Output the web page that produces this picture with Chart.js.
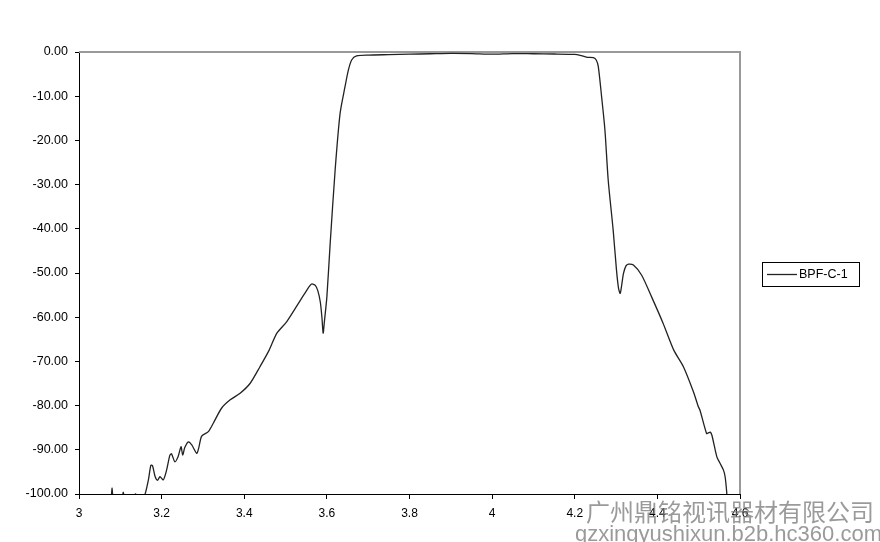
<!DOCTYPE html>
<html>
<head>
<meta charset="utf-8">
<script src="https://cdn.jsdelivr.net/npm/chart.js@4.4.0/dist/chart.umd.min.js"></script>
<style>
  body { margin: 0; background: #fff; }
  #wrap { position: relative; width: 880px; height: 542px; }
  .wm { position: absolute; color: rgba(120,120,120,0.75); white-space: nowrap; line-height: 1; }
  #wm1 { left: 586px; top: 493px; font: 24px "Noto Sans CJK SC", sans-serif; }
  #wm2 { left: 575px; top: 521px; font: 22px "Liberation Sans", Arial, sans-serif; }
</style>
</head>
<body>
<div id="wrap">
  <canvas id="bpf" width="880" height="542"></canvas>
  <div class="wm" id="wm1">广州鼎铭视讯器材有限公司</div>
  <div class="wm" id="wm2">gzxingyushixun.b2b.hc360.com</div>
</div>
<script>
// frequency (GHz) and response (dB)
const freq = [3.000, 3.070, 3.078, 3.080, 3.082, 3.090, 3.105, 3.107, 3.110, 3.125,
  3.134, 3.137, 3.140, 3.150, 3.160, 3.168, 3.174, 3.178, 3.184, 3.190,
  3.196, 3.204, 3.212, 3.220, 3.224, 3.232, 3.240, 3.247, 3.251, 3.256,
  3.265, 3.273, 3.285, 3.290, 3.297, 3.313, 3.325, 3.345, 3.366, 3.390,
  3.414, 3.438, 3.460, 3.479, 3.503, 3.535, 3.552, 3.563, 3.572, 3.578,
  3.584, 3.588, 3.591, 3.594, 3.600, 3.608, 3.620, 3.632, 3.644, 3.652,
  3.660, 3.672, 3.700, 3.750, 3.800, 3.850, 3.900, 3.950, 4.000, 4.050,
  4.100, 4.150, 4.200, 4.213, 4.230, 4.245, 4.252, 4.257, 4.265, 4.273,
  4.281, 4.293, 4.301, 4.306, 4.310, 4.314, 4.318, 4.324, 4.330, 4.342,
  4.362, 4.386, 4.414, 4.440, 4.463, 4.487, 4.499, 4.503, 4.519, 4.523,
  4.528, 4.532, 4.544, 4.552, 4.560, 4.564, 4.568, 4.570];
const loss = [-103, -102, -100.5, -98.6, -100.5, -102, -100.6, -99.6, -100.6, -102,
  -100.3, -100.0, -100.4, -102, -100, -96.8, -93.5, -93.6, -96.0, -96.9,
  -96.1, -96.8, -94.6, -91.2, -90.9, -92.7, -91.5, -89.3, -91.2, -89.5,
  -88.2, -88.9, -90.8, -89.5, -86.9, -85.9, -84.0, -80.6, -78.7, -77.2,
  -75.0, -71.2, -67.5, -63.6, -61.0, -56.3, -53.8, -52.5, -52.8, -54.0,
  -56.5, -60.0, -63.6, -61.0, -55.4, -43.3, -26.7, -13.9, -7.8, -4.1,
  -1.8, -0.9, -0.7, -0.6, -0.5, -0.4, -0.3, -0.35, -0.5, -0.35,
  -0.4, -0.45, -0.55, -0.75, -1.2, -1.3, -1.8, -3.3, -10.1, -17.6,
  -29, -40.3, -49.3, -53.5, -54.6, -52.5, -50.1, -48.4, -48.0, -48.2,
  -50.5, -55.4, -61.4, -67.5, -71.2, -76.8, -80.2, -81.0, -86.3, -86.2,
  -86.0, -86.7, -91.6, -93.1, -94.6, -96.1, -99.8, -103];
const seriesName = "BPF-C-1";
const xTicks = [3, 3.2, 3.4, 3.6, 3.8, 4, 4.2, 4.4, 4.6];

const font = "Liberation Sans";

// gray frame on top/right of plot area
const frame = {
  id: "frame",
  beforeDatasetsDraw(chart) {
    const a = chart.chartArea, c = chart.ctx;
    c.save();
    c.strokeStyle = "#999";
    c.lineWidth = 2;
    c.beginPath();
    c.moveTo(a.left, a.top);
    c.lineTo(a.right, a.top);
    c.lineTo(a.right, a.bottom);
    c.stroke();
    c.restore();
  }
};

// boxed legend to the right, like the spreadsheet one
const boxLegend = {
  id: "boxLegend",
  afterDraw(chart) {
    const c = chart.ctx, ds = chart.data.datasets[0];
    c.save();
    c.strokeStyle = "#000";
    c.lineWidth = 1;
    c.strokeRect(762.5, 262.5, 97, 24);
    c.strokeStyle = ds.borderColor;
    c.lineWidth = 1.3;
    c.beginPath();
    c.moveTo(767, 274.5);
    c.lineTo(797, 274.5);
    c.stroke();
    c.fillStyle = "#000";
    c.font = "12.5px '" + font + "'";
    c.textBaseline = "middle";
    c.fillText(ds.label, 799, 275);
    c.restore();
  }
};

const ctx = document.getElementById("bpf").getContext("2d");
new Chart(ctx, {
  type: "scatter",
  data: {
    datasets: [{
      label: seriesName,
      data: freq.map((f, i) => ({ x: f, y: loss[i] })),
      showLine: true,
      borderColor: "#222",
      borderWidth: 1.3,
      pointRadius: 0,
      tension: 0.25
    }]
  },
  options: {
    responsive: false,
    animation: false,
    layout: { padding: { top: 52, right: 140, bottom: 0, left: 0 } },
    plugins: { legend: { display: false }, tooltip: { enabled: false } },
    scales: {
      x: {
        type: "linear",
        min: 3, max: 4.6,
        afterFit(s) { s.height = 48; },
        afterBuildTicks(s) { s.ticks = xTicks.map(v => ({ value: v })); },
        border: { color: "#000", width: 1 },
        grid: { drawOnChartArea: false, drawTicks: true, tickLength: 5, color: "#000" },
        ticks: {
          padding: 7,
          maxRotation: 0,
          color: "#000",
          font: { family: font, size: 12 },
          callback: v => String(v)
        }
      },
      y: {
        min: -100, max: 0,
        afterFit(s) { s.width = 79; },
        border: { color: "#000", width: 1 },
        grid: { drawOnChartArea: false, drawTicks: true, tickLength: 4, color: "#000" },
        ticks: {
          stepSize: 10,
          padding: 7,
          color: "#000",
          font: { family: font, size: 12.5 },
          callback: v => v.toFixed(2)
        }
      }
    }
  },
  plugins: [frame, boxLegend]
});
</script>
</body>
</html>
